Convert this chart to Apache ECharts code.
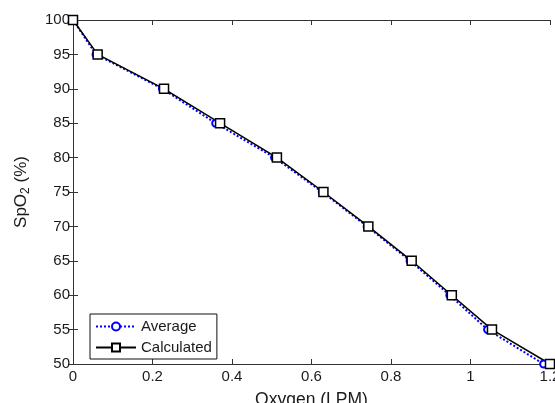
<!DOCTYPE html>
<html>
<head>
<meta charset="utf-8">
<script src="https://cdn.jsdelivr.net/npm/echarts@6/dist/echarts.min.js"></script>
<style>
  html, body { margin: 0; padding: 0; background: #fff; }
  #chart { width: 555px; height: 403px; }
</style>
</head>
<body>
<div id="chart"></div>
<script>
// values
var avgOxygen = [0, 0.058, 0.225, 0.359, 0.507, 0.627, 0.740, 0.848, 0.948, 1.043, 1.184];
var avgSpO2 = [100, 95, 90, 85, 80, 75, 70, 65, 60, 55, 50];
var calcOxygen = [0, 0.062, 0.229, 0.370, 0.513, 0.630, 0.743, 0.852, 0.953, 1.054, 1.2];
var calcSpO2 = [100, 95, 90, 85, 80, 75, 70, 65, 60, 55, 50];

var toPairs = function (xs, ys) {
    return xs.map(function (x, i) { return [x, ys[i]]; });
};

var FONT = 'Liberation Sans, Arial, sans-serif';
var AXIS_COLOR = '#333';
var TEXT_COLOR = '#1a1a1a';

var chartDom = document.getElementById('chart');
var myChart = echarts.init(chartDom, null, { renderer: 'canvas' });

var boxAxis = {
    axisLine: { show: true, lineStyle: { color: AXIS_COLOR, width: 1 } },
    axisTick: { show: true, inside: true, length: 5, lineStyle: { color: AXIS_COLOR } },
    axisLabel: { show: false },
    splitLine: { show: false }
};

var option = {
    animation: false,
    grid: { left: 73, right: 5, top: 20, bottom: 39, containLabel: false, outerBoundsMode: 'none' },
    legend: {
        orient: 'vertical',
        left: 90,
        top: 314,
        itemWidth: 40,
        itemHeight: 10,
        itemGap: 6,
        padding: [5, 5, 4, 5],
        borderColor: '#111',
        borderWidth: 1,
        backgroundColor: '#fff',
        textStyle: { fontFamily: FONT, fontSize: 15, color: TEXT_COLOR },
        data: ['Average', 'Calculated']
    },
    xAxis: [
        {
            type: 'value',
            min: 0, max: 1.2, interval: 0.2,
            name: 'Oxygen (LPM)',
            nameLocation: 'middle',
            nameGap: 27,
            nameTextStyle: { fontFamily: FONT, fontSize: 17.5, color: TEXT_COLOR },
            axisLine: { show: true, onZero: false, lineStyle: { color: AXIS_COLOR, width: 1 } },
            axisTick: { show: true, inside: true, length: 5, lineStyle: { color: AXIS_COLOR } },
            axisLabel: { fontFamily: FONT, fontSize: 15, color: TEXT_COLOR, margin: 5, showMaxLabel: true },
            splitLine: { show: false }
        },
        Object.assign({ type: 'value', position: 'top', min: 0, max: 1.2, interval: 0.2 }, boxAxis)
    ],
    yAxis: [
        {
            type: 'value',
            min: 50, max: 100, interval: 5,
            name: 'SpO{sub|2} (%)',
            nameLocation: 'middle',
            nameGap: 41,
            nameRotate: 90,
            nameTextStyle: {
                fontFamily: FONT, fontSize: 17, color: TEXT_COLOR,
                rich: { sub: { fontFamily: FONT, fontSize: 12, color: TEXT_COLOR, verticalAlign: 'bottom', padding: [9, 0, 0, 0] } }
            },
            axisLine: { show: true, onZero: false, lineStyle: { color: AXIS_COLOR, width: 1 } },
            axisTick: { show: true, inside: true, length: 5, lineStyle: { color: AXIS_COLOR } },
            axisLabel: { fontFamily: FONT, fontSize: 15, color: TEXT_COLOR, margin: 3 },
            splitLine: { show: false }
        },
        Object.assign({ type: 'value', position: 'right', min: 50, max: 100, interval: 5 }, boxAxis)
    ],
    series: [
        {
            name: 'Average',
            type: 'line',
            data: toPairs(avgOxygen, avgSpO2),
            symbol: 'emptyCircle',
            symbolSize: 7,
            lineStyle: { color: '#0000ff', width: 2, type: 'dotted' },
            itemStyle: { color: '#0000ff', borderColor: '#0000ff', borderWidth: 2 },
            clip: false
        },
        {
            name: 'Calculated',
            type: 'line',
            data: toPairs(calcOxygen, calcSpO2),
            symbol: 'rect',
            symbolSize: 9,
            lineStyle: { color: '#000', width: 1.5 },
            itemStyle: { color: '#fff', borderColor: '#000', borderWidth: 1.5 },
            clip: false
        }
    ]
};

myChart.setOption(option);
</script>
</body>
</html>
